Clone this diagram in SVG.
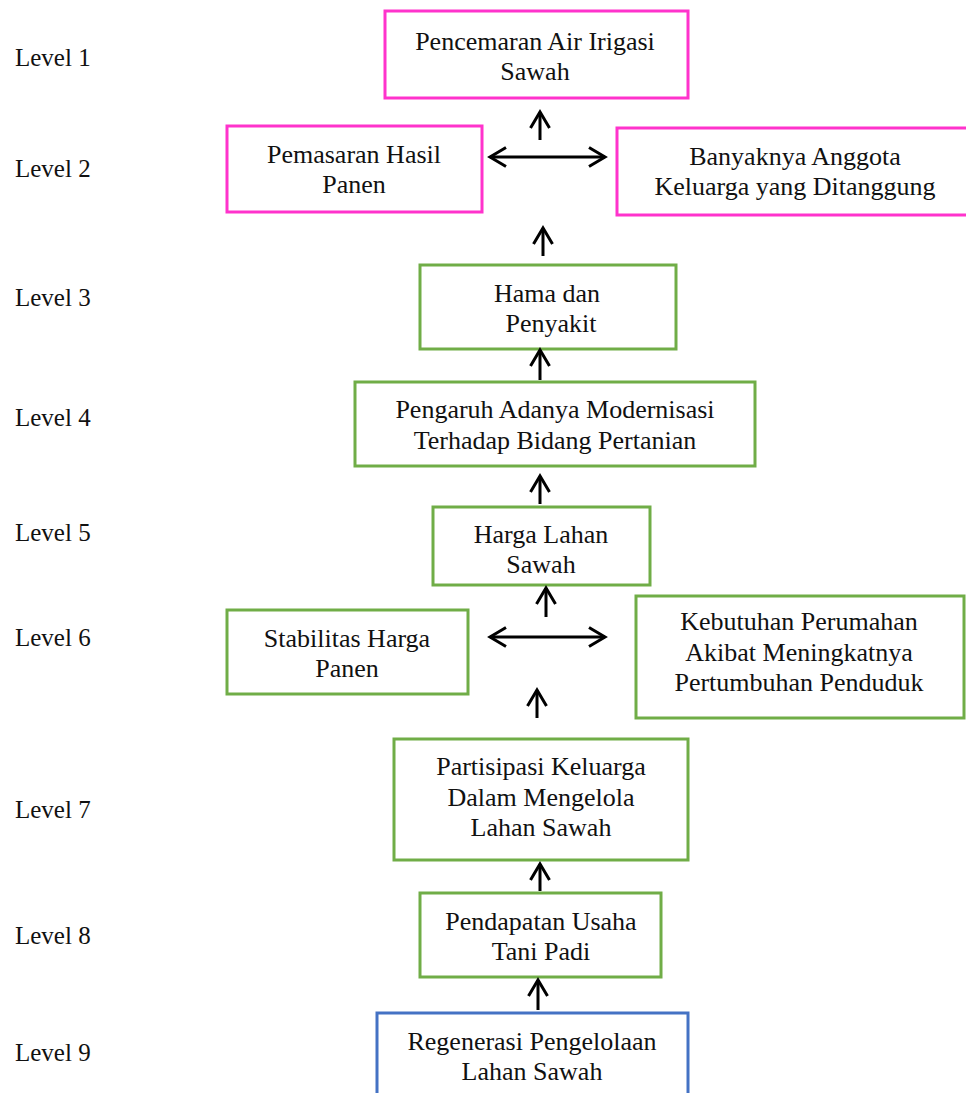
<svg xmlns="http://www.w3.org/2000/svg" width="966" height="1093" viewBox="0 0 966 1093">
<defs>
<marker id="ah" viewBox="0 0 22 22" refX="19" refY="11" markerWidth="22" markerHeight="22" markerUnits="userSpaceOnUse" orient="auto-start-reverse">
<polyline points="3,1.5 19,11 3,20.5" fill="none" stroke="#000" stroke-width="3"/>
</marker>
<style>
.t{font-family:'Liberation Serif', 'Times New Roman', serif;font-size:26px;fill:#111;}
.lv{font-family:'Liberation Serif', 'Times New Roman', serif;font-size:25px;fill:#111;}
.c{text-anchor:middle;}
.pk{fill:#fff;stroke:#FF33CC;stroke-width:3;}
.gr{fill:#fff;stroke:#70AD47;stroke-width:3;}
.bl{fill:#fff;stroke:#4472C4;stroke-width:3;}
.ar{stroke:#000;stroke-width:3;fill:none;marker-end:url(#ah);}
.da{stroke:#000;stroke-width:3;fill:none;marker-end:url(#ah);marker-start:url(#ah);}
</style>
</defs>
<g id="levels" class="lv">
<text x="15" y="66">Level 1</text>
<text x="15" y="177">Level 2</text>
<text x="15" y="306">Level 3</text>
<text x="15" y="426">Level 4</text>
<text x="15" y="541">Level 5</text>
<text x="15" y="646">Level 6</text>
<text x="15" y="818">Level 7</text>
<text x="15" y="944">Level 8</text>
<text x="15" y="1061">Level 9</text>
</g>
<g class="t">
<g id="n1"><rect class="pk" x="385" y="11" width="303" height="87"/><text class="c" x="535" y="50">Pencemaran Air Irigasi</text><text class="c" x="535" y="80">Sawah</text></g>
<g id="n2a"><rect class="pk" x="227" y="126" width="255" height="86"/><text class="c" x="354" y="163">Pemasaran Hasil</text><text class="c" x="354" y="193">Panen</text></g>
<g id="n2b"><rect class="pk" x="617" y="128" width="352" height="87"/><text class="c" x="795" y="165">Banyaknya Anggota</text><text class="c" x="795" y="195">Keluarga yang Ditanggung</text></g>
<g id="n3"><rect class="gr" x="420" y="265" width="256" height="84"/><text class="c" x="547" y="302">Hama dan</text><text class="c" x="551" y="332">Penyakit</text></g>
<g id="n4"><rect class="gr" x="355" y="382" width="400" height="84"/><text class="c" x="555" y="418">Pengaruh Adanya Modernisasi</text><text class="c" x="555" y="449">Terhadap Bidang Pertanian</text></g>
<g id="n5"><rect class="gr" x="433" y="507" width="217" height="78"/><text class="c" x="541" y="543">Harga Lahan</text><text class="c" x="541" y="573">Sawah</text></g>
<g id="n6a"><rect class="gr" x="227" y="610" width="241" height="84"/><text class="c" x="347" y="647">Stabilitas Harga</text><text class="c" x="347" y="677">Panen</text></g>
<g id="n6b"><rect class="gr" x="636" y="596" width="328" height="122"/><text class="c" x="799" y="630">Kebutuhan Perumahan</text><text class="c" x="799" y="661">Akibat Meningkatnya</text><text class="c" x="799" y="691">Pertumbuhan Penduduk</text></g>
<g id="n7"><rect class="gr" x="394" y="739" width="294" height="121"/><text class="c" x="541" y="775">Partisipasi Keluarga</text><text class="c" x="541" y="806">Dalam Mengelola</text><text class="c" x="541" y="836">Lahan Sawah</text></g>
<g id="n8"><rect class="gr" x="420" y="893" width="241" height="84"/><text class="c" x="541" y="930">Pendapatan Usaha</text><text class="c" x="541" y="960">Tani Padi</text></g>
<g id="n9"><rect class="bl" x="377" y="1013" width="311" height="90"/><text class="c" x="532" y="1050">Regenerasi Pengelolaan</text><text class="c" x="532" y="1080">Lahan Sawah</text></g>
</g>
<g id="connectors">
<line class="ar" x1="540" y1="140" x2="540" y2="112"/>
<line class="da" x1="490" y1="157" x2="605" y2="157"/>
<line class="ar" x1="543" y1="256" x2="543" y2="228"/>
<line class="ar" x1="540" y1="380" x2="540" y2="350"/>
<line class="ar" x1="540" y1="504" x2="540" y2="476"/>
<line class="ar" x1="546" y1="617" x2="546" y2="588"/>
<line class="da" x1="490" y1="637" x2="605" y2="637"/>
<line class="ar" x1="537" y1="718" x2="537" y2="690"/>
<line class="ar" x1="540" y1="891" x2="540" y2="864"/>
<line class="ar" x1="538" y1="1010" x2="538" y2="980"/>
</g>
</svg>
